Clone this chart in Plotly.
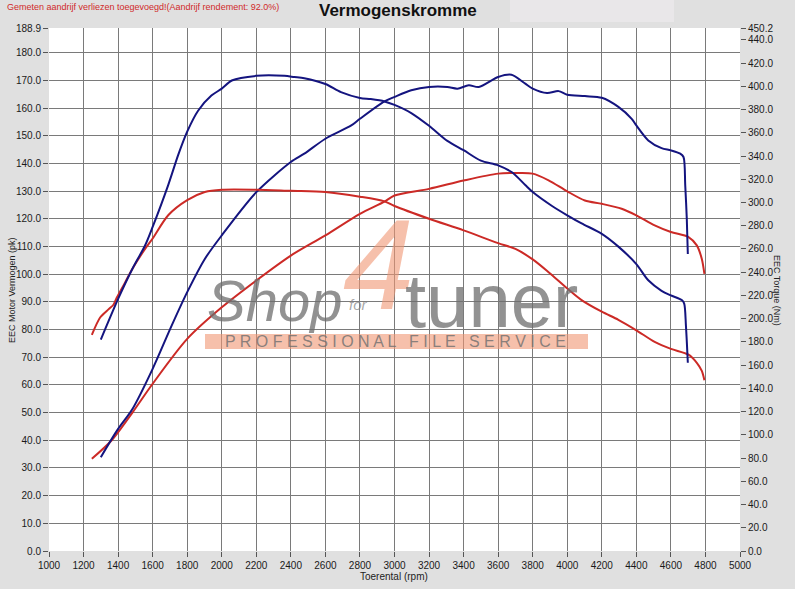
import plotly.graph_objects as go

# ---------------- data ----------------
# Tuned (blue) power, pk
rpm_power_tuned = [1300, 1400, 1483, 1600, 1710, 1800, 1902, 2000, 2200, 2400, 2478, 2600, 2750, 2800,
                   2942, 3000, 3097, 3200, 3306, 3364, 3430, 3488, 3600, 3677, 3757, 3800, 3883, 3950,
                   4000, 4102, 4200, 4296, 4373, 4400, 4469, 4546, 4600, 4654, 4673, 4683, 4692, 4698]
power_tuned = [33.9, 44.1, 51.3, 65.8, 81.4, 93.5, 105.5, 114.0, 129.6, 140.5, 143.5, 148.9, 153.7, 156.1,
               162.4, 164.0, 166.4, 167.6, 167.6, 167.0, 168.2, 167.6, 171.2, 172.0, 168.8, 167.0, 165.4, 166.1,
               164.8, 164.3, 163.7, 160.4, 156.1, 153.7, 148.3, 145.5, 144.7, 143.5, 142.3, 132.0, 120.0, 107.3]

# Tuned (blue) torque, Nm
rpm_torque_tuned = [1300, 1400, 1483, 1556, 1600, 1690, 1748, 1800, 1863, 1940, 2000, 2058, 2200, 2363,
                    2420, 2478, 2600, 2690, 2800, 2862, 2942, 3000, 3097, 3200, 3306, 3400, 3500, 3600,
                    3680, 3757, 3800, 3912, 4000, 4083, 4200, 4296, 4400, 4469, 4546, 4600, 4663, 4677,
                    4687, 4698]
torque_tuned = [182, 217, 243, 263, 279, 315, 341, 361, 379, 392, 398, 405, 409, 409,
                408, 407, 402, 395, 390, 389, 387, 384, 377, 366, 353, 345, 336, 332,
                326, 315, 309, 297, 289, 282, 273, 262, 247, 233, 224, 220, 216, 213,
                194, 162]

# Stock (red) power, pk
rpm_power_stock = [1248, 1363, 1483, 1600, 1800, 2000, 2200, 2400, 2600, 2800, 2942, 3000, 3200, 3400,
                   3600, 3700, 3800, 3892, 4000, 4102, 4200, 4315, 4400, 4506, 4600, 4702, 4750, 4779, 4794]
power_stock = [33.3, 40.0, 50.0, 60.4, 76.6, 88.0, 97.7, 106.7, 114.0, 121.8, 126.2, 128.4, 130.8, 133.8,
               136.3, 136.5, 136.3, 133.9, 129.9, 126.6, 125.4, 123.6, 121.2, 117.6, 115.2, 113.4, 110.4, 105.5, 100.1]

# Stock (red) torque, Nm
rpm_torque_stock = [1248, 1296, 1344, 1373, 1392, 1440, 1483, 1556, 1600, 1690, 1800, 1902, 2000, 2200,
                    2400, 2600, 2800, 2942, 3000, 3200, 3400, 3600, 3700, 3800, 3892, 4000, 4083, 4200,
                    4296, 4400, 4506, 4600, 4702, 4750, 4779, 4794]
torque_stock = [186, 201, 208, 212, 218, 231, 243, 260, 269, 289, 302, 309, 311, 311,
                310, 309, 305, 301, 297, 286, 276, 265, 260, 251, 240, 226, 216, 206,
                199, 190, 180, 174, 169, 162, 155, 147]

x_ticks = list(range(1000, 5001, 200))
power_ticks = [float(v) for v in range(0, 181, 10)] + [188.9]
torque_ticks = [float(v) for v in range(0, 441, 20)] + [450.2]
power_max = 188.9
torque_max = 450.2

title_text = "Vermogenskromme"
note_text = "Gemeten aandrijf verliezen toegevoegd!(Aandrijf rendement: 92.0%)"
x_title = "Toerental (rpm)"
y_title = "EEC Motor Vermogen (pk)"
y2_title = "EEC Torque (Nm)"

# ---------------- figure ----------------
BLUE = "#14147f"
RED = "#cc2a26"
FONT = "Liberation Sans, Arial, sans-serif"

fig = go.Figure()
line_kw = dict(shape="spline", smoothing=0.8)
fig.add_trace(go.Scatter(x=rpm_power_stock, y=power_stock, mode="lines",
                         line=dict(color=RED, width=2, **line_kw), yaxis="y"))
fig.add_trace(go.Scatter(x=rpm_torque_stock, y=torque_stock, mode="lines",
                         line=dict(color=RED, width=2, **line_kw), yaxis="y2"))
fig.add_trace(go.Scatter(x=rpm_power_tuned, y=power_tuned, mode="lines",
                         line=dict(color=BLUE, width=2, **line_kw), yaxis="y"))
fig.add_trace(go.Scatter(x=rpm_torque_tuned, y=torque_tuned, mode="lines",
                         line=dict(color=BLUE, width=2, **line_kw), yaxis="y2"))

W, H = 795, 589
L, R, T, B = 49, 55, 28, 38
pw, ph = W - L - R, H - T - B


def px(xp):
    return (xp - L) / pw


def py(yp):
    return (H - B - yp) / ph


tickfont = dict(family=FONT, size=10, color="#1a1a1a")
fig.update_layout(
    width=W, height=H,
    margin=dict(l=L, r=R, t=T, b=B, pad=0),
    paper_bgcolor="#e0e0e0",
    plot_bgcolor="#ffffff",
    showlegend=False,
    xaxis=dict(range=[1000, 5000], tickvals=x_ticks, ticktext=[str(v) for v in x_ticks],
               showgrid=True, gridcolor="#7a7a7a", gridwidth=1, zeroline=False,
               ticks="outside", ticklen=5, tickcolor="#555", tickfont=tickfont,
               showline=False),
    yaxis=dict(range=[0, power_max], tickvals=power_ticks,
               ticktext=[f"{v:.1f}" for v in power_ticks],
               showgrid=True, gridcolor="#7a7a7a", gridwidth=1, zeroline=False,
               ticks="outside", ticklen=5, tickcolor="#555", tickfont=tickfont,
               showline=False),
    yaxis2=dict(range=[0, torque_max], tickvals=torque_ticks,
                ticktext=[f"{v:.1f}" for v in torque_ticks],
                overlaying="y", side="right", showgrid=False, zeroline=False,
                ticks="outside", ticklen=5, tickcolor="#555", tickfont=tickfont,
                showline=False),
)

# light panel behind title area
fig.add_shape(type="rect", xref="paper", yref="paper",
              x0=px(510), x1=px(674), y0=py(22), y1=py(0),
              fillcolor="#e9e7e9", line=dict(width=0), layer="below")

# watermark band
fig.add_shape(type="rect", xref="paper", yref="paper",
              x0=px(205), x1=px(588), y0=py(349), y1=py(334),
              fillcolor="rgba(240,150,115,0.6)", line=dict(width=0), layer="above")

annotations = [
    dict(text=f"<b>{title_text}</b>", x=px(398), y=py(10), xanchor="center", yanchor="middle",
         font=dict(family=FONT, size=17, color="#111")),
    dict(text=note_text, x=px(5), y=py(7), xanchor="left", yanchor="middle",
         font=dict(family=FONT, size=9, color="#d02a2a")),
    dict(text=x_title, x=px(394), y=py(576), xanchor="center", yanchor="middle",
         font=dict(family=FONT, size=10, color="#222")),
    dict(text=y_title, x=px(12), y=py(290), xanchor="center", yanchor="middle", textangle=-90,
         font=dict(family=FONT, size=9, color="#222")),
    dict(text=y2_title, x=px(777), y=py(290), xanchor="center", yanchor="middle", textangle=90,
         font=dict(family=FONT, size=9, color="#222")),
    # watermark
    dict(text="<i>Shop</i>", x=px(205), y=py(335), xanchor="left", yanchor="bottom",
         font=dict(family=FONT, size=58, color="rgba(110,110,110,0.75)")),
    dict(text="<i>4</i>", x=px(378), y=py(338), xanchor="center", yanchor="bottom",
         font=dict(family=FONT, size=128, color="rgba(240,150,115,0.6)")),
    dict(text="<i>for</i>", x=px(358), y=py(304), xanchor="center", yanchor="middle",
         font=dict(family=FONT, size=15, color="rgba(130,130,130,0.7)")),
    dict(text="tuner", x=px(403), y=py(345), xanchor="left", yanchor="bottom",
         font=dict(family=FONT, size=76, color="rgba(110,110,110,0.75)")),
    dict(text="P R O F E S S I O N A L   F I L E   S E R V I C E",
         x=px(396), y=py(341.5), xanchor="center", yanchor="middle",
         font=dict(family=FONT, size=16, color="rgba(110,110,110,0.8)")),
]
for a in annotations:
    a.update(xref="paper", yref="paper", showarrow=False)
fig.update_layout(annotations=annotations)

fig.write_html("out.html", config={"displayModeBar": False},
               post_script="document.body.style.margin='0';")
